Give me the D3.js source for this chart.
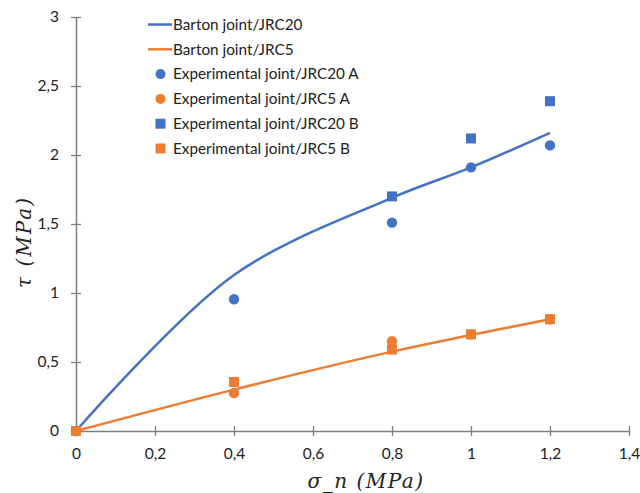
<!DOCTYPE html>
<html>
<head>
<meta charset="utf-8">
<script src="https://cdn.jsdelivr.net/npm/d3@7"></script>
<style>
  html, body { margin: 0; padding: 0; background: #fff; }
  svg { display: block; }
</style>
</head>
<body>
<script>
// ---- data ----
const bartonX = [0, 0.4, 0.8, 1.0, 1.2];
const barton20 = [0, 1.13, 1.69, 1.91, 2.16];
const barton5 = [0, 0.30, 0.575, 0.695, 0.81];
const expAX = [0, 0.4, 0.8, 1.0, 1.2];
const exp20A = [0, 0.955, 1.51, 1.91, 2.07];
const exp5A = [0, 0.275, 0.65, 0.70, 0.81];
const exp20BX = [0, 0.8, 1.0, 1.2];
const exp20B = [0, 1.70, 2.12, 2.39];
const exp5BX = [0, 0.4, 0.8, 1.0, 1.2];
const exp5B = [0, 0.355, 0.59, 0.70, 0.81];
const xTicks = [0, 0.2, 0.4, 0.6, 0.8, 1.0, 1.2, 1.4];
const yTicks = [0, 0.5, 1, 1.5, 2, 2.5, 3];
const legendLabels = ["Barton joint/JRC20", "Barton joint/JRC5", "Experimental joint/JRC20 A",
  "Experimental joint/JRC5 A", "Experimental joint/JRC20 B", "Experimental joint/JRC5 B"];

const BLUE = "#4472C4", ORANGE = "#ED7D31";
const W = 640, H = 493;
const svg = d3.select("body").append("svg").attr("width", W).attr("height", H);

const x = d3.scaleLinear().domain([0, 1.4]).range([76, 629]);
const y = d3.scaleLinear().domain([0, 3]).range([431, 17]);

const fmt = d => String(d).replace(".", ",");
const tickFont = "Lato, 'Open Sans', sans-serif";

// axes
const xAxis = svg.append("g").attr("transform", `translate(0,${y(0)})`)
  .call(d3.axisBottom(x).tickValues(xTicks).tickFormat(fmt).tickSizeInner(5).tickSizeOuter(0).tickPadding(12));
const yAxis = svg.append("g").attr("transform", `translate(${x(0)},0)`)
  .call(d3.axisLeft(y).tickValues(yTicks).tickFormat(fmt).tickSizeInner(5).tickSizeOuter(0).tickPadding(12));

[xAxis, yAxis].forEach(g => {
  g.select(".domain").attr("stroke", "#7f7f7f").attr("stroke-width", 1.5);
  g.selectAll(".tick line").attr("stroke", "#7f7f7f").attr("stroke-width", 1.3);
  g.selectAll(".tick text").attr("fill", "#222").style("font-family", tickFont).style("font-size", "15.5px");
});
// ticks crossing axis
xAxis.selectAll(".tick line").attr("y1", -5).attr("y2", 5);
yAxis.selectAll(".tick line").attr("x1", -5).attr("x2", 5);
xAxis.selectAll(".tick text").attr("dy", "0.71em").attr("y", 17);

// lines
const line = d3.line().x(d => x(d[0])).y(d => y(d[1])).curve(d3.curveCatmullRom.alpha(0.5));
svg.append("path").datum(bartonX.map((v, i) => [v, barton20[i]]))
  .attr("d", line).attr("fill", "none").attr("stroke", BLUE).attr("stroke-width", 2.5);
svg.append("path").datum(bartonX.map((v, i) => [v, barton5[i]]))
  .attr("d", line).attr("fill", "none").attr("stroke", ORANGE).attr("stroke-width", 2.5);

// markers
function circles(xs, ys, color) {
  svg.append("g").selectAll("circle").data(xs.map((v, i) => [v, ys[i]])).join("circle")
    .attr("cx", d => x(d[0])).attr("cy", d => y(d[1])).attr("r", 5.2).attr("fill", color);
}
function squares(xs, ys, color) {
  const s = 10;
  svg.append("g").selectAll("rect").data(xs.map((v, i) => [v, ys[i]])).join("rect")
    .attr("x", d => x(d[0]) - s / 2).attr("y", d => y(d[1]) - s / 2)
    .attr("width", s).attr("height", s).attr("fill", color);
}
circles(expAX, exp20A, BLUE);
circles(expAX, exp5A, ORANGE);
squares(exp20BX, exp20B, BLUE);
squares(exp5BX, exp5B, ORANGE);

// legend
const lg = svg.append("g");
const types = ["line", "line", "circle", "circle", "square", "square"];
const colors = [BLUE, ORANGE, BLUE, ORANGE, BLUE, ORANGE];
legendLabels.forEach((lab, i) => {
  const cy = 24.5 + i * 24.8;
  if (types[i] === "line") {
    lg.append("line").attr("x1", 148).attr("x2", 172).attr("y1", cy).attr("y2", cy)
      .attr("stroke", colors[i]).attr("stroke-width", 2.5);
  } else if (types[i] === "circle") {
    lg.append("circle").attr("cx", 160.5).attr("cy", cy).attr("r", 5).attr("fill", colors[i]);
  } else {
    lg.append("rect").attr("x", 155.5).attr("y", cy - 5).attr("width", 10).attr("height", 10).attr("fill", colors[i]);
  }
  lg.append("text").attr("x", 173).attr("y", cy).attr("dy", "0.35em")
    .style("font-family", tickFont).style("font-size", "15.3px").attr("fill", "#222").text(lab);
});

// axis titles
const mathFont = "'DejaVu Serif', 'Liberation Serif', serif";
svg.append("text").attr("x", 366).attr("y", 488).attr("text-anchor", "middle")
  .style("font-family", mathFont).style("font-style", "italic").style("font-size", "20px")
  .style("letter-spacing", "1.5px").attr("fill", "#222")
  .text("σ_n  (MPa)");
svg.append("text").attr("transform", "translate(31,242) rotate(-90)").attr("text-anchor", "middle")
  .style("font-family", mathFont).style("font-style", "italic").style("font-size", "20px")
  .style("letter-spacing", "2px").attr("fill", "#222")
  .text("τ (MPa)");
</script>
</body>
</html>
